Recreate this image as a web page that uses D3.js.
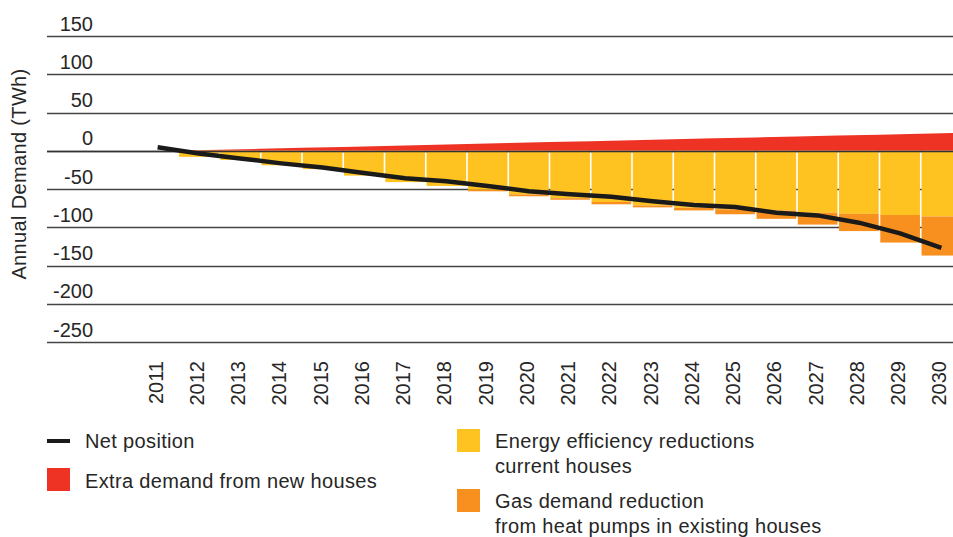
<!DOCTYPE html>
<html>
<head>
<meta charset="utf-8">
<script src="https://cdn.jsdelivr.net/npm/d3@7"></script>
<style>
  body { margin: 0; background: #fff; }
  text { font-family: "Liberation Sans", Arial, sans-serif; fill: #262626; }
  text.legend { letter-spacing: 0.35px; }
</style>
</head>
<body>
<script>
var years = [2011,2012,2013,2014,2015,2016,2017,2018,2019,2020,2021,2022,2023,2024,2025,2026,2027,2028,2029,2030];
var newHouses = [0,1.2,2.5,3.8,5,6.3,7.5,8.8,10,11.3,12.5,13.8,15,16.2,17.4,18.6,19.8,21,22.2,23.5];
var efficiency = [0,-8,-12,-19,-24,-32.5,-41,-46,-51,-57,-62,-67,-71.5,-74.5,-76.5,-78,-81,-82.5,-84,-86];
var heatPumps = [0,0,0,0,0,0,0,0,-2,-2.5,-2,-3,-2.5,-3.5,-6.5,-11,-15.5,-22.5,-36,-51];
var netPosition = [4.5,-3.5,-10,-16.5,-22,-29,-36,-40,-46,-53,-57,-60,-66,-71,-73.5,-81,-84.5,-94,-108,-127];
var yTicks = [150,100,50,0,-50,-100,-150,-200,-250];

var red = "#ee3224", yellow = "#fec221", orange = "#f7901e";

var svg = d3.select("body").append("svg").attr("width", 953).attr("height", 537);

var x = d3.scaleBand().domain(years).range([137, 962]).padding(0);
var y = d3.scaleLinear().domain([-250, 150]).range([342, 36]);
var bw = x.bandwidth();

// gridlines + labels
svg.selectAll("line.grid")
    .data(yTicks)
    .enter().append("line")
        .attr("class", "grid")
        .attr("x1", 47).attr("x2", 953)
        .attr("y1", function (d) { return Math.round(y(d)) + 0.5; })
        .attr("y2", function (d) { return Math.round(y(d)) + 0.5; })
        .attr("stroke", "#444").attr("stroke-width", 1.3);

svg.selectAll("text.ytick")
    .data(yTicks)
    .enter().append("text")
        .attr("class", "ytick")
        .attr("x", 93)
        .attr("y", function (d) { return y(d) - 5.5; })
        .attr("text-anchor", "end")
        .attr("font-size", 20)
        .text(function (d) { return d; });

svg.append("text")
    .attr("class", "legend")
    .attr("transform", "translate(26,174) rotate(-90)")
    .attr("text-anchor", "middle")
    .attr("font-size", 20)
    .text("Annual Demand (TWh)");

// red area (extra demand), points on right edge of each band
var area = d3.area()
    .x(function (d, i) { return x(years[i]) + bw; })
    .y0(y(0))
    .y1(function (d) { return y(d); });
svg.append("path")
    .datum(newHouses)
    .attr("d", area)
    .attr("fill", red);

// stacked bars
svg.selectAll("rect.eff")
    .data(years)
    .enter().append("rect")
        .attr("class", "eff")
        .attr("x", function (d) { return x(d) + 0.8; })
        .attr("width", bw - 1.6)
        .attr("y", y(0))
        .attr("height", function (d, i) { return y(efficiency[i]) - y(0); })
        .attr("fill", yellow);

svg.selectAll("rect.hp")
    .data(years)
    .enter().append("rect")
        .attr("class", "hp")
        .attr("x", function (d) { return x(d) + 0.8; })
        .attr("width", bw - 1.6)
        .attr("y", function (d, i) { return y(efficiency[i]); })
        .attr("height", function (d, i) { return y(efficiency[i] + heatPumps[i]) - y(efficiency[i]); })
        .attr("fill", orange);

// zero line on top
svg.append("line")
    .attr("x1", 47).attr("x2", 953)
    .attr("y1", Math.round(y(0)) + 0.5).attr("y2", Math.round(y(0)) + 0.5)
    .attr("stroke", "#333").attr("stroke-width", 1.3);

// net position line
var line = d3.line()
    .x(function (d, i) { return x(years[i]) + bw / 2; })
    .y(function (d) { return y(d); });
svg.append("path")
    .datum(netPosition)
    .attr("d", line)
    .attr("fill", "none")
    .attr("stroke", "#1a1a1a")
    .attr("stroke-width", 4.5);

// x labels
svg.selectAll("text.xtick")
    .data(years)
    .enter().append("text")
        .attr("class", "xtick")
        .attr("transform", function (d) { return "translate(" + (x(d) + bw / 2 + 5) + ",361) rotate(-90)"; })
        .attr("text-anchor", "end")
        .attr("font-size", 20)
        .text(function (d) { return d; });

// legend
svg.append("line")
    .attr("x1", 47).attr("x2", 70).attr("y1", 441).attr("y2", 441)
    .attr("stroke", "#1a1a1a").attr("stroke-width", 4);
svg.append("text").attr("class", "legend").attr("x", 85).attr("y", 448).attr("font-size", 20).text("Net position");

svg.append("rect").attr("x", 47).attr("y", 468).attr("width", 23).attr("height", 23).attr("fill", red);
svg.append("text").attr("class", "legend").attr("x", 85).attr("y", 488).attr("font-size", 20).text("Extra demand from new houses");

svg.append("rect").attr("x", 457).attr("y", 429).attr("width", 23).attr("height", 23).attr("fill", yellow);
svg.append("text").attr("class", "legend").attr("x", 495).attr("y", 448).attr("font-size", 20).text("Energy efficiency reductions");
svg.append("text").attr("class", "legend").attr("x", 495).attr("y", 473).attr("font-size", 20).text("current houses");

svg.append("rect").attr("x", 457).attr("y", 489).attr("width", 23).attr("height", 23).attr("fill", orange);
svg.append("text").attr("class", "legend").attr("x", 495).attr("y", 508).attr("font-size", 20).text("Gas demand reduction");
svg.append("text").attr("class", "legend").attr("x", 495).attr("y", 533).attr("font-size", 20).text("from heat pumps in existing houses");
</script>
</body>
</html>
